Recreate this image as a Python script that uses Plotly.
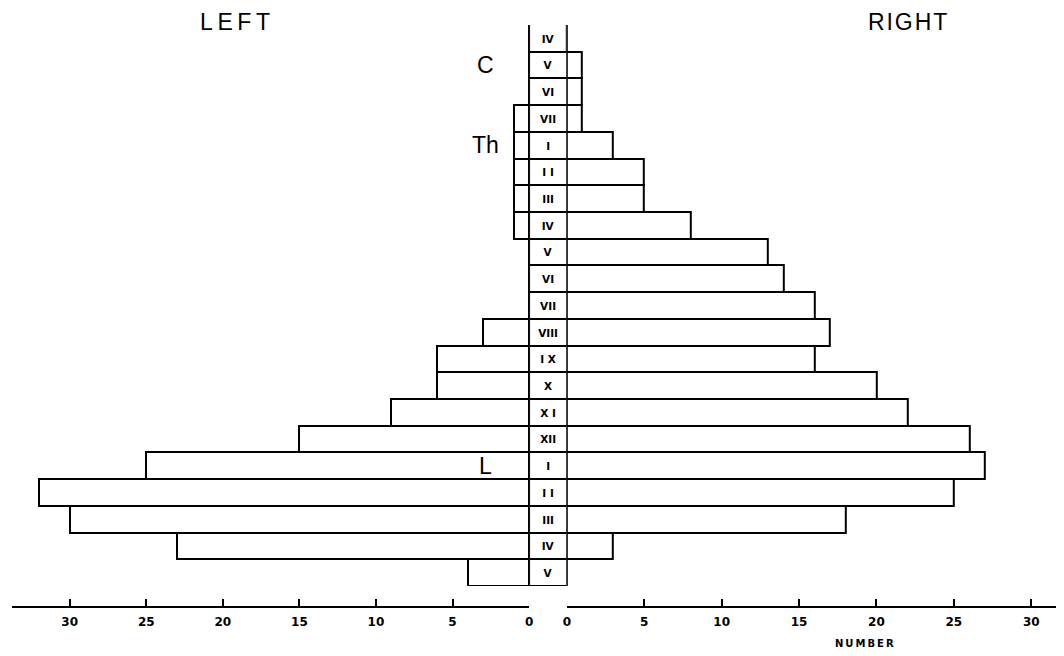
import plotly.graph_objects as go

# Vertebrae (top to bottom)
vertebrae = ["IV", "V", "VI", "VII",
             "I", "I I", "III", "IV", "V", "VI", "VII", "VIII", "I X", "X", "X I", "XII",
             "I", "I I", "III", "IV", "V"]
regions = ["C", "Th", "L"]
region_rows = [1, 4, 16]
left_counts = [0, 0, 0, 1,
               1, 1, 1, 1, 0, 0, 0, 3, 6, 6, 9, 15,
               25, 32, 30, 23, 4]
right_counts = [0, 1, 1, 1,
                3, 5, 5, 8, 13, 14, 16, 17, 16, 20, 22, 26,
                27, 25, 18, 3, 0]
tick_values = [0, 5, 10, 15, 20, 25, 30]

W, H = 1064, 656
OFF = 8  # default page body margin shifts the figure by this much


def px_x(p):
    return (p - OFF) / W


def px_y(p):
    return (H - (p - OFF)) / H


rows = list(range(len(vertebrae)))
LINE = dict(color="black", width=2)
BOLD = "DejaVu Sans"

fig = go.Figure()

# left bars
fig.add_trace(go.Bar(
    y=rows, x=left_counts, orientation="h", xaxis="x", yaxis="y",
    marker=dict(color="white", line=LINE), width=1, showlegend=False,
    hoverinfo="x+y"))
# right bars
fig.add_trace(go.Bar(
    y=rows, x=right_counts, orientation="h", xaxis="x2", yaxis="y",
    marker=dict(color="white", line=LINE), width=1, showlegend=False,
    hoverinfo="x+y"))
# central column cells with vertebra labels
cell_line_w = [0] + [2] * (len(vertebrae) - 1)
fig.add_trace(go.Bar(
    y=rows, x=[1] * len(vertebrae), orientation="h", xaxis="x3", yaxis="y",
    marker=dict(color="white", line=dict(color="black", width=cell_line_w)),
    width=1, text=vertebrae, textposition="inside", insidetextanchor="middle",
    constraintext="none",
    textfont=dict(family=BOLD, size=10.5, color="black", weight="bold"),
    showlegend=False, hoverinfo="text"))
# open-topped first cell: only the side walls
fig.add_trace(go.Scatter(
    x=[0, 0, None, 1, 1], y=[rows[0] - 0.5, rows[0] + 0.5, None, rows[0] - 0.5, rows[0] + 0.5],
    xaxis="x3", yaxis="y", mode="lines", line=LINE, showlegend=False, hoverinfo="skip"))

left0, right0 = 529, 567
px_left, px_right = 15.43, 15.6

common = dict(
    tickvals=tick_values, ticks="inside", ticklen=7, tickwidth=2, tickcolor="black",
    showline=True, linewidth=2, linecolor="black", showgrid=False, zeroline=False,
    tickfont=dict(family=BOLD, size=12, color="black", weight="bold"),
    anchor="free", position=px_y(607), ticklabelstandoff=4, fixedrange=True)

fig.update_layout(
    width=W, height=H, margin=dict(l=0, r=0, t=0, b=0),
    paper_bgcolor="white", plot_bgcolor="white",
    barmode="overlay", bargap=0,
    xaxis=dict(domain=[px_x(8), px_x(left0)], range=[(left0 - 8) / px_left, 0], **common),
    xaxis2=dict(domain=[px_x(right0), px_x(1064)], range=[0, (1064 - right0) / px_right], **common),
    xaxis3=dict(domain=[px_x(left0), px_x(right0)], range=[0, 1], visible=False,
                anchor="y", fixedrange=True),
    yaxis=dict(domain=[px_y(586), px_y(25)], range=[len(vertebrae) - 0.5, -0.5],
               visible=False, fixedrange=True),
)

ann_font = dict(family="Liberation Sans", size=23, color="black")
fig.add_annotation(text="L\u2009E\u2009F\u2009T", x=px_x(233), y=px_y(22), xref="paper", yref="paper",
                   xanchor="center", yanchor="middle", showarrow=False, font=ann_font)
fig.add_annotation(text="R\u200aI\u200aG\u200aH\u200aT", x=px_x(910), y=px_y(22), xref="paper", yref="paper",
                   xanchor="center", yanchor="middle", showarrow=False, font=ann_font)
fig.add_annotation(text="N\u2009U\u2009M\u2009B\u2009E\u2009R", x=px_x(867), y=px_y(643),
                   xref="paper", yref="paper", xanchor="center", yanchor="middle", showarrow=False,
                   font=dict(family=BOLD, size=10, color="black", weight="bold"))
for name, r in zip(regions, region_rows):
    fig.add_annotation(text=name, x=px_x(left0 - 44), xref="paper", y=r, yref="y",
                       xanchor="center", yanchor="middle", showarrow=False, font=ann_font)

fig.write_html("out.html")
